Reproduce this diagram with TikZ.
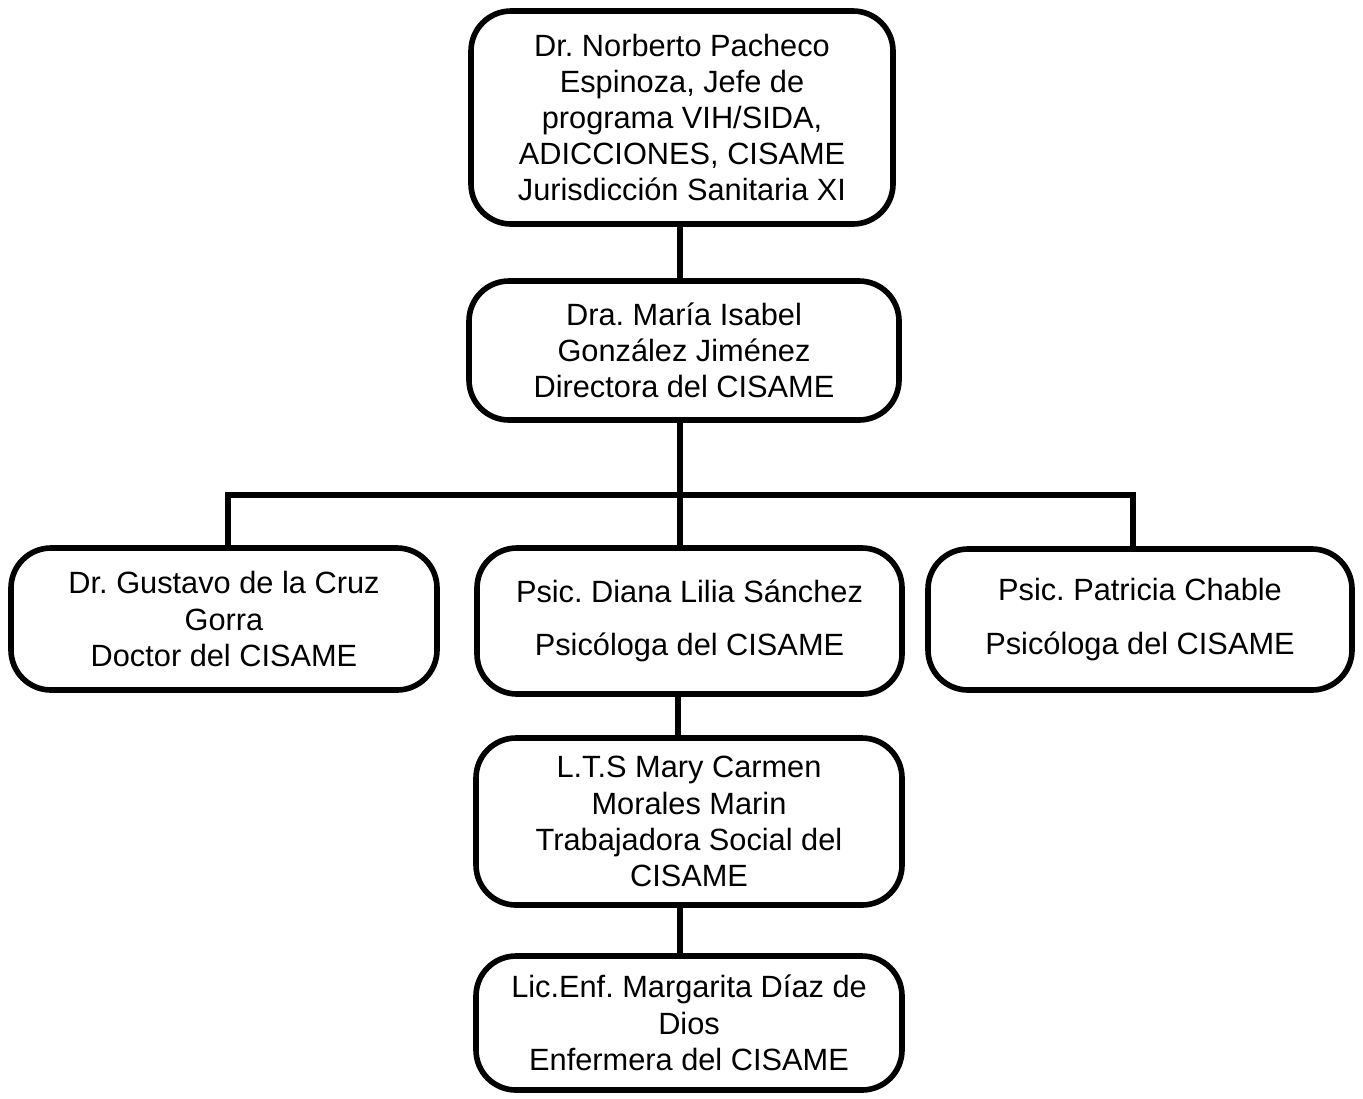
\documentclass[tikz,border=0pt]{standalone}
\usepackage{fontspec}
\setmainfont{Liberation Sans}
\usepackage{tikz}
\usetikzlibrary{positioning}
\frenchspacing

\begin{document}
\begin{tikzpicture}[
                    puesto/.style={rectangle, rounded corners=0.8cm, draw=black, line width=3.2pt,
                                   align=center, font=\fontsize{17.5}{20.6}\selectfont,
                                   minimum width=8.5cm, inner sep=2pt},
                    enlace/.style={draw=black, line width=3.2pt}
                ]
                    \useasboundingbox (0,0) rectangle (27.26,-21.96);
                    % jefe de programa
                    \node[puesto, minimum width=8.44cm, minimum height=4.26cm] (jefe) at (13.64,-2.35)
                        {Dr. Norberto Pacheco\\Espinoza, Jefe de\\programa VIH/SIDA,\\ADICCIONES, CISAME\\Jurisdicción Sanitaria XI};
                    \node[puesto, minimum width=8.6cm, minimum height=2.78cm] (directora) at (13.68,-7.01)
                        {Dra. María Isabel\\González Jiménez\\Directora del CISAME};
                    % tercer nivel
                    \node[puesto, minimum width=8.52cm, minimum height=2.84cm] (doctor) at (4.48,-12.38)
                        {Dr. Gustavo de la Cruz\\Gorra\\Doctor del CISAME};
                    \node[puesto, minimum width=8.5cm, minimum height=2.92cm] (diana) at (13.79,-12.42)
                        {Psic. Diana Lilia Sánchez\\[0.34cm]Psicóloga del CISAME};
                    \node[puesto, minimum width=8.48cm, minimum height=2.82cm] (patricia) at (22.8,-12.39)
                        {Psic. Patricia Chable\\[0.34cm]Psicóloga del CISAME};
                    \node[puesto, minimum width=8.52cm, minimum height=3.34cm] (trabajadora) at (13.78,-16.43)
                        {L.T.S Mary Carmen\\Morales Marin\\Trabajadora Social del\\CISAME};
                    \node[puesto, minimum width=8.52cm, minimum height=2.68cm] (enfermera) at (13.78,-20.46)
                        {Lic.Enf. Margarita Díaz de\\Dios\\Enfermera del CISAME};
                    % conectores
                    \coordinate (barra) at (13.6,-9.9);
                    \coordinate (barraizq) at (4.56,-9.9);
                    \coordinate (barrader) at (22.66,-9.9);
                    \draw[enlace] (13.6,0 |- jefe.south) -- (13.6,0 |- directora.north);
                    \draw[enlace] (13.6,0 |- directora.south) -- (barra);
                    \draw[enlace] (barraizq |- doctor.north) -- (barraizq) -- (barrader) -- (barrader |- patricia.north);
                    \draw[enlace] (barra) -- (barra |- diana.north);
                    \draw[enlace] (13.56,0 |- diana.south) -- (13.56,0 |- trabajadora.north);
                    \draw[enlace] (13.6,0 |- trabajadora.south) -- (13.6,0 |- enfermera.north);
                \end{tikzpicture}
\end{document}
